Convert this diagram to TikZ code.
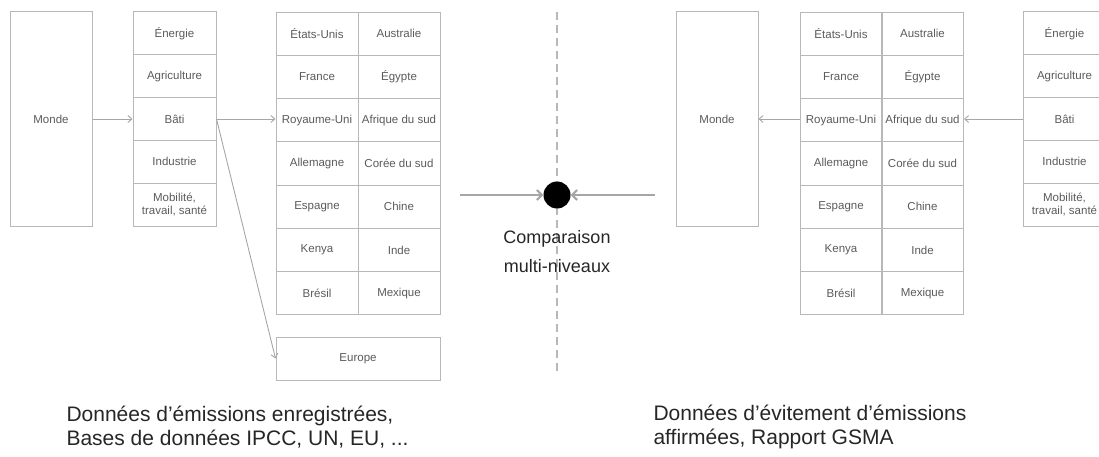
\documentclass[tikz,border=0pt]{standalone}
\usepackage{fontspec}
\setmainfont{Liberation Sans}
\usetikzlibrary{arrows.meta}
\definecolor{cadre}{HTML}{B8B8B8}
\definecolor{etiq}{HTML}{5A5A5A}
\definecolor{fleche}{HTML}{A6A6A6}
\definecolor{texte}{HTML}{262626}
\begin{document}
\begin{tikzpicture}[x=1pt, y=-1pt,
	case/.style={draw=cadre, line width=1pt, inner sep=0pt, minimum width=83pt, minimum height=43pt, text=etiq, align=center, font=\fontsize{11.5}{13}\selectfont},
	lien/.style={draw=fleche, line width=0.9pt, -{Straight Barb[length=4pt, width=7pt]}},
	gros/.style={draw=fleche, line width=2pt, -{Straight Barb[length=5pt, width=10pt]}},
	legende/.style={text=texte, align=left, anchor=west, font=\fontsize{21}{24.5}\selectfont}]
	\useasboundingbox (0,0) rectangle (1099,457); % cadre
	%separation
	\draw[cadre, line width=1.5pt, dash pattern=on 8pt off 5pt] (557,12) -- (557,375);
	%gauche: monde
	\node[case, minimum width=82pt, minimum height=214pt] (monde1) at (51,119) {Monde};
	%gauche: secteurs
	\node[case] (ener1) at (174.5,33.4) {Énergie};
	\node[case] (agri1) at (174.5,76.2) {Agriculture};
	\node[case] (bati1) at (174.5,119) {Bâti};
	\node[case] (indu1) at (174.5,161.8) {Industrie};
	\node[case] (mobi1) at (174.5,204.6) {Mobilité,\\travail, santé};
	%gauche: pays
	\node[case, minimum width=82pt] (usa1) at (317,33.6) {États-Unis};
	\node[case, minimum width=82pt] (aus1) at (399,33.6) {Australie};
	\node[case, minimum width=82pt] (fra1) at (317,76.9) {France};
	\node[case, minimum width=82pt] (egy1) at (399,76.9) {Égypte};
	\node[case, minimum width=82pt] (ru1) at (317,120.2) {Royaume-Uni};
	\node[case, minimum width=82pt] (afs1) at (399,120.2) {Afrique du sud};
	\node[case, minimum width=82pt] (all1) at (317,163.5) {Allemagne};
	\node[case, minimum width=82pt] (cor1) at (399,163.5) {Corée du sud};
	\node[case, minimum width=82pt] (esp1) at (317,206.8) {Espagne};
	\node[case, minimum width=82pt] (chi1) at (399,206.8) {Chine};
	\node[case, minimum width=82pt] (ken1) at (317,250.1) {Kenya};
	\node[case, minimum width=82pt] (ind1) at (399,250.1) {Inde};
	\node[case, minimum width=82pt] (bre1) at (317,293.4) {Brésil};
	\node[case, minimum width=82pt] (mex1) at (399,293.4) {Mexique};
	\node[case, minimum width=164pt] (euro) at (358,358.5) {Europe};
	%fleches gauche
	\draw[lien] (monde1.east) -- (bati1.west);
	\draw[lien] (bati1.east) -- (bati1.east -| ru1.west);
	\draw[lien] (bati1.east) -- (euro.west);
	%centre
	\node[circle, fill=black, minimum size=27pt, inner sep=0pt] (comp) at (557,195) {};
	\coordinate (depg) at (460,195);
	\coordinate (depd) at (655,195);
	\draw[gros] (depg) -- (comp.west);
	\draw[gros] (depd) -- (comp.east);
	\node[text=texte, align=center, font=\fontsize{18}{29}\selectfont] (compl) at (557,252) {Comparaison\\multi-niveaux};
	%droite: monde
	\node[case, minimum width=82pt, minimum height=214pt] (monde2) at (717,119) {Monde};
	%droite: pays
	\node[case, minimum width=82pt] (usa2) at (841,33.6) {États-Unis};
	\node[case, minimum width=82pt] (aus2) at (922.5,33.6) {Australie};
	\node[case, minimum width=82pt] (fra2) at (841,76.9) {France};
	\node[case, minimum width=82pt] (egy2) at (922.5,76.9) {Égypte};
	\node[case, minimum width=82pt] (ru2) at (841,120.2) {Royaume-Uni};
	\node[case, minimum width=82pt] (afs2) at (922.5,120.2) {Afrique du sud};
	\node[case, minimum width=82pt] (all2) at (841,163.5) {Allemagne};
	\node[case, minimum width=82pt] (cor2) at (922.5,163.5) {Corée du sud};
	\node[case, minimum width=82pt] (esp2) at (841,206.8) {Espagne};
	\node[case, minimum width=82pt] (chi2) at (922.5,206.8) {Chine};
	\node[case, minimum width=82pt] (ken2) at (841,250.1) {Kenya};
	\node[case, minimum width=82pt] (ind2) at (922.5,250.1) {Inde};
	\node[case, minimum width=82pt] (bre2) at (841,293.4) {Brésil};
	\node[case, minimum width=82pt] (mex2) at (922.5,293.4) {Mexique};
	%droite: secteurs
	\node[case] (ener2) at (1064.5,33.4) {Énergie};
	\node[case] (agri2) at (1064.5,76.2) {Agriculture};
	\node[case] (bati2) at (1064.5,119) {Bâti};
	\node[case] (indu2) at (1064.5,161.8) {Industrie};
	\node[case] (mobi2) at (1064.5,204.6) {Mobilité,\\travail, santé};
	%fleches droite
	\draw[lien] (bati2.west) -- (bati2.west -| afs2.east);
	\draw[lien] (monde2.east -| ru2.west) -- (monde2.east);
	%legendes
	\node[legende] (srcg) at (63,427) {Données d’émissions enregistrées,\\Bases de données IPCC, UN, EU, ...};
	\node[legende] (srcd) at (650,427) {Données d’évitement d’émissions\\affirmées, Rapport GSMA};
\end{tikzpicture}
\end{document}
